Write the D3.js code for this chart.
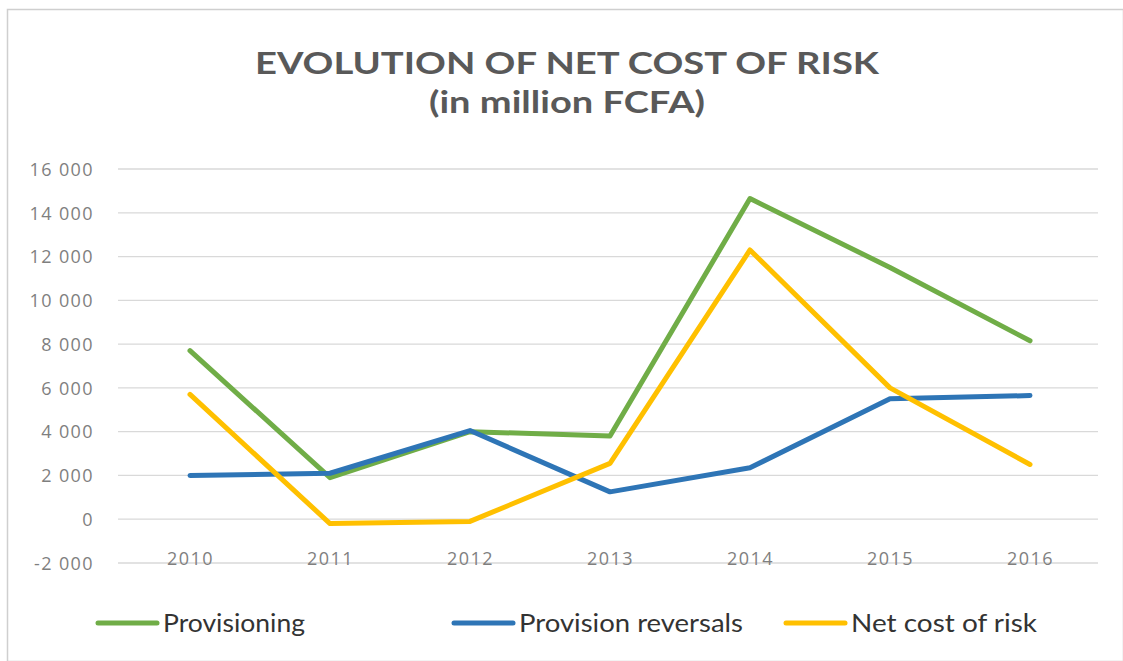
<!DOCTYPE html>
<html>
<head>
<meta charset="utf-8">
<script src="https://cdn.jsdelivr.net/npm/d3@7"></script>
<style>
  html, body { margin: 0; padding: 0; background: #fff; }
  svg { display: block; }
</style>
</head>
<body>
<svg id="chart" width="1123" height="661"></svg>
<script>
// Net cost of risk, in million FCFA
const years = ["2010", "2011", "2012", "2013", "2014", "2015", "2016"];
const provisioning = [7700, 1900, 4000, 3800, 14650, 11500, 8150];
const reversals = [2000, 2100, 4050, 1250, 2350, 5500, 5650];
const netCost = [5700, -200, -100, 2550, 12300, 6000, 2500];
const yTicks = [-2000, 0, 2000, 4000, 6000, 8000, 10000, 12000, 14000, 16000];
const seriesNames = ["Provisioning", "Provision reversals", "Net cost of risk"];
const seriesColors = ["#70AD47", "#2E75B6", "#FFC000"];

const svg = d3.select("#chart");
const W = 1123, H = 661;

// frame
svg.append("rect")
  .attr("x", 7.5).attr("y", 9.5)
  .attr("width", W - 7).attr("height", H - 9)
  .attr("fill", "#fff").attr("stroke", "#cfcfcf").attr("stroke-width", 1.5);

// titles
svg.append("text")
  .attr("x", 567).attr("y", 74)
  .attr("text-anchor", "middle")
  .attr("font-family", "Lato, 'Open Sans', sans-serif")
  .attr("font-weight", 700).attr("font-size", 30)
  .attr("fill", "#595959")
  .attr("textLength", 624).attr("lengthAdjust", "spacingAndGlyphs")
  .text("EVOLUTION OF NET COST OF RISK");

svg.append("text")
  .attr("x", 567).attr("y", 113)
  .attr("text-anchor", "middle")
  .attr("font-family", "Lato, 'Open Sans', sans-serif")
  .attr("font-weight", 700).attr("font-size", 30)
  .attr("fill", "#595959")
  .attr("textLength", 276).attr("lengthAdjust", "spacingAndGlyphs")
  .text("(in million FCFA)");

// scales
const x = d3.scalePoint().domain(years).range([120, 1100]).padding(0.5);
const y = d3.scaleLinear().domain([-2000, 16000]).range([563, 169]);

// thousands separated by a space, plain hyphen for negatives
const fmt = d => d3.format(",")(d).replace(/,/g, " ").replace("\u2212", "-");

// horizontal gridlines
svg.append("g")
  .selectAll("line")
  .data(yTicks)
  .join("line")
  .attr("x1", 118).attr("x2", 1098)
  .attr("y1", d => y(d)).attr("y2", d => y(d))
  .attr("stroke", "#d9d9d9").attr("stroke-width", 1.3);

// y axis labels
const yAxis = d3.axisLeft(y).tickValues(yTicks).tickSize(0).tickPadding(0)
  .tickFormat(fmt);
const gy = svg.append("g").attr("transform", "translate(94,0)").call(yAxis);
gy.select(".domain").remove();
gy.selectAll("text")
  .attr("font-family", "'Open Sans', Lato, sans-serif")
  .attr("font-size", 18).attr("letter-spacing", 1.4)
  .attr("fill", "#7f7f7f").attr("dy", "0.35em");

// x axis labels
const xAxis = d3.axisBottom(x).tickSize(0).tickPadding(0);
const gx = svg.append("g").attr("transform", "translate(0,552)").call(xAxis);
gx.select(".domain").remove();
gx.selectAll("text")
  .attr("font-family", "'Open Sans', Lato, sans-serif")
  .attr("font-size", 18).attr("letter-spacing", 1.4)
  .attr("fill", "#7f7f7f").attr("dy", "0.71em");

// series lines
const series = [provisioning, reversals, netCost];
const line = d3.line().x((d, i) => x(years[i])).y(d => y(d));
svg.append("g")
  .selectAll("path")
  .data(series)
  .join("path")
  .attr("d", d => line(d))
  .attr("fill", "none")
  .attr("stroke", (d, i) => seriesColors[i])
  .attr("stroke-width", 5)
  .attr("stroke-linejoin", "round")
  .attr("stroke-linecap", "round");

// legend
const legendX = [98, 454, 786];
const legendW = [142, 224, 186];
const lg = svg.append("g").selectAll("g")
  .data(seriesNames)
  .join("g")
  .attr("transform", (d, i) => `translate(${legendX[i]},623)`);
lg.append("line")
  .attr("x1", 0).attr("x2", 59).attr("y1", 0).attr("y2", 0)
  .attr("stroke", (d, i) => seriesColors[i])
  .attr("stroke-width", 5).attr("stroke-linecap", "round");
lg.append("text")
  .attr("x", 65).attr("y", 9)
  .attr("font-family", "Lato, 'Open Sans', sans-serif")
  .attr("font-size", 25).attr("fill", "#333")
  .attr("textLength", (d, i) => legendW[i]).attr("lengthAdjust", "spacingAndGlyphs")
  .text(d => d);
</script>
</body>
</html>
